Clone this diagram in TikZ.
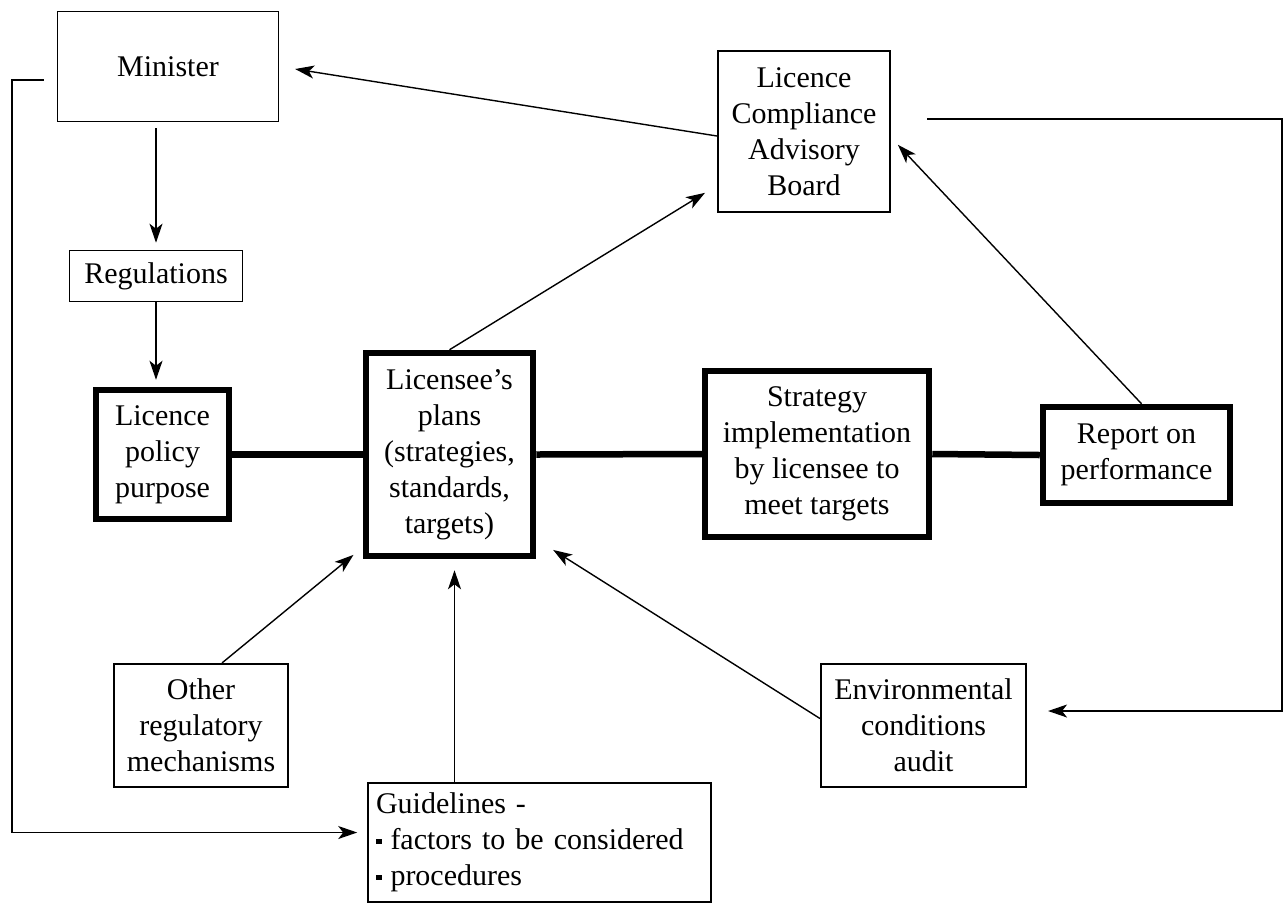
\documentclass[tikz,border=0pt]{standalone}
\usepackage{fontspec}
\setmainfont{Liberation Serif}
\usetikzlibrary{arrows,arrows.meta,positioning}
\tikzset{
  box/.style={draw, line width=1.6pt, align=center, inner sep=0pt, font=\fontsize{30}{36}\selectfont},
  heavybox/.style={box, line width=6.5pt},
  link/.style={-{Stealth[length=19pt,width=13pt,inset=5pt]}, line width=1.4pt},
  bond/.style={line width=6.5pt}
}
\newcommand{\sqbullet}{\raisebox{0.4ex}{\rule{5.5pt}{5.5pt}}\hspace{9pt}}

\begin{document}
\begin{tikzpicture}[x=1pt,y=-1pt]
\useasboundingbox (0,0) rectangle (1284,906);

\node[box, minimum width=221pt, minimum height=110pt] (Min) at (168,66.5) {Minister};
\node[box, minimum width=173pt, minimum height=51pt] (Reg) at (156,276) {Regulations};
\node[heavybox, minimum width=133pt, minimum height=129pt] (Pol) at (162.5,454.5) {Licence\\policy\\purpose};
\node[heavybox, minimum width=167pt, minimum height=203pt] (Plan) at (449.5,454.5) {Licensee's\\plans\\(strategies,\\standards,\\targets)};
\node[heavybox, minimum width=224pt, minimum height=166pt] (Strat) at (817,454) {Strategy\\implementation\\by licensee to\\meet targets};
\node[heavybox, minimum width=187pt, minimum height=96pt] (Rep) at (1136.5,455) {Report on\\performance};
\node[box, minimum width=172.5pt, minimum height=161.5pt] (Board) at (804,131.5) {Licence\\Compliance\\Advisory\\Board};
\node[box, minimum width=174.5pt, minimum height=123.5pt] (Other) at (201,725.5) {Other\\regulatory\\mechanisms};
\node[box, minimum width=205.5pt, minimum height=123.5pt] (Env) at (923.5,725.5) {Environmental\\conditions\\audit};
\node[box, align=left, text width=327pt, inner xsep=8pt, minimum height=119.5pt] (Guide) at (539.5,842.5) {Guidelines -\\\sqbullet factors to be considered\\\sqbullet procedures};

\coordinate (CL) at (12,80);
\coordinate (CR) at (1282,119);

\draw[bond] (Pol.east) -- (Plan.west);
\draw[bond] (Plan.east) -- (Strat.west);
\draw[bond] (Strat.east) -- (Rep.west);

\draw[link, shorten <=6pt, shorten >=7pt] (Reg.north |- Min.south) -- (Reg.north);
\draw[link, shorten >=7pt] (Reg.south) -- (Reg.south |- Pol.north);
\draw[link, shorten >=16pt] ([yshift=-4.5pt]Board.west) -- (Min.east);
\draw[link, shorten >=14pt] (Plan.north) -- ([yshift=-54pt]Board.west);
\draw[link, shorten >=10pt] ([xshift=5pt]Rep.north) -- ([yshift=-6pt]Board.east);
\draw[link, shorten >=12pt] ([xshift=21pt]Other.north) -- ([yshift=12pt]Plan.south west);
\draw[link, shorten >=11pt] ([xshift=5pt]Plan.south |- Guide.north) -- ([xshift=5pt]Plan.south);
\draw[link, shorten >=20pt] ([yshift=7pt]Env.west) -- ([yshift=20pt]Plan.south east);
\draw[link, shorten <=13pt, shorten >=10pt] ([yshift=-13.5pt]Min.west) -- (CL) |- ([yshift=10pt]Guide.west);
\draw[link, shorten <=36pt, shorten >=21pt] ([yshift=12.5pt]Board.east) -- (CR) |- ([yshift=14.5pt]Env.east);
\end{tikzpicture}
\end{document}
